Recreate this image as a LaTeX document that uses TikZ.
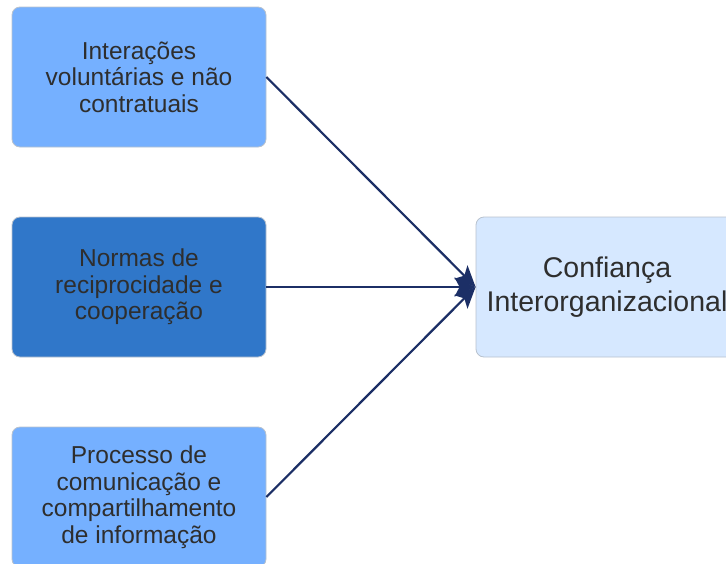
\documentclass[tikz,border=0pt]{standalone}
\usepackage{fontspec}
\setmainfont{Liberation Sans}
\usetikzlibrary{arrows.meta}
\definecolor{lightbox}{HTML}{75B0FF}
\definecolor{darkbox}{HTML}{3077C9}
\definecolor{palebox}{HTML}{D6E8FF}
\definecolor{edgegray}{HTML}{B8C2CE}
\definecolor{txt}{HTML}{2E2E2E}
\definecolor{navy}{HTML}{1C2F66}
\begin{document}
\begin{tikzpicture}[x=1pt,y=-1pt,
  srcbox/.style={draw=edgegray, line width=0.8pt, rounded corners=8pt, minimum width=254pt, minimum height=140pt, inner sep=0pt, align=center, text=txt, font=\fontsize{24.5}{26.5}\selectfont},
  dstbox/.style={draw=edgegray, line width=0.8pt, rounded corners=8pt, fill=palebox, minimum width=262pt, minimum height=140pt, inner sep=0pt, align=center, text=txt, font=\fontsize{28.5}{34}\selectfont},
  link/.style={draw=navy, line width=2.2pt, -{Stealth[length=21pt,width=19pt,inset=5pt]}}
]
\useasboundingbox (0,0) rectangle (726,563);
\node[srcbox, fill=lightbox] (a) at (139,77) {Interações\\voluntárias e não\\contratuais};
\node[srcbox, fill=darkbox] (b) at (139,287) {Normas de\\reciprocidade e\\cooperação};
\node[srcbox, fill=lightbox] (c) at (139,497) {Processo de\\comunicação e\\compartilhamento\\de informação};
\node[dstbox] (d) at (607,287) {Confiança\\Interorganizacional};
\draw[link] (a.east) -- (d.west);
\draw[link] (b.east) -- (d.west);
\draw[link] (c.east) -- (d.west);
\end{tikzpicture}
\end{document}
